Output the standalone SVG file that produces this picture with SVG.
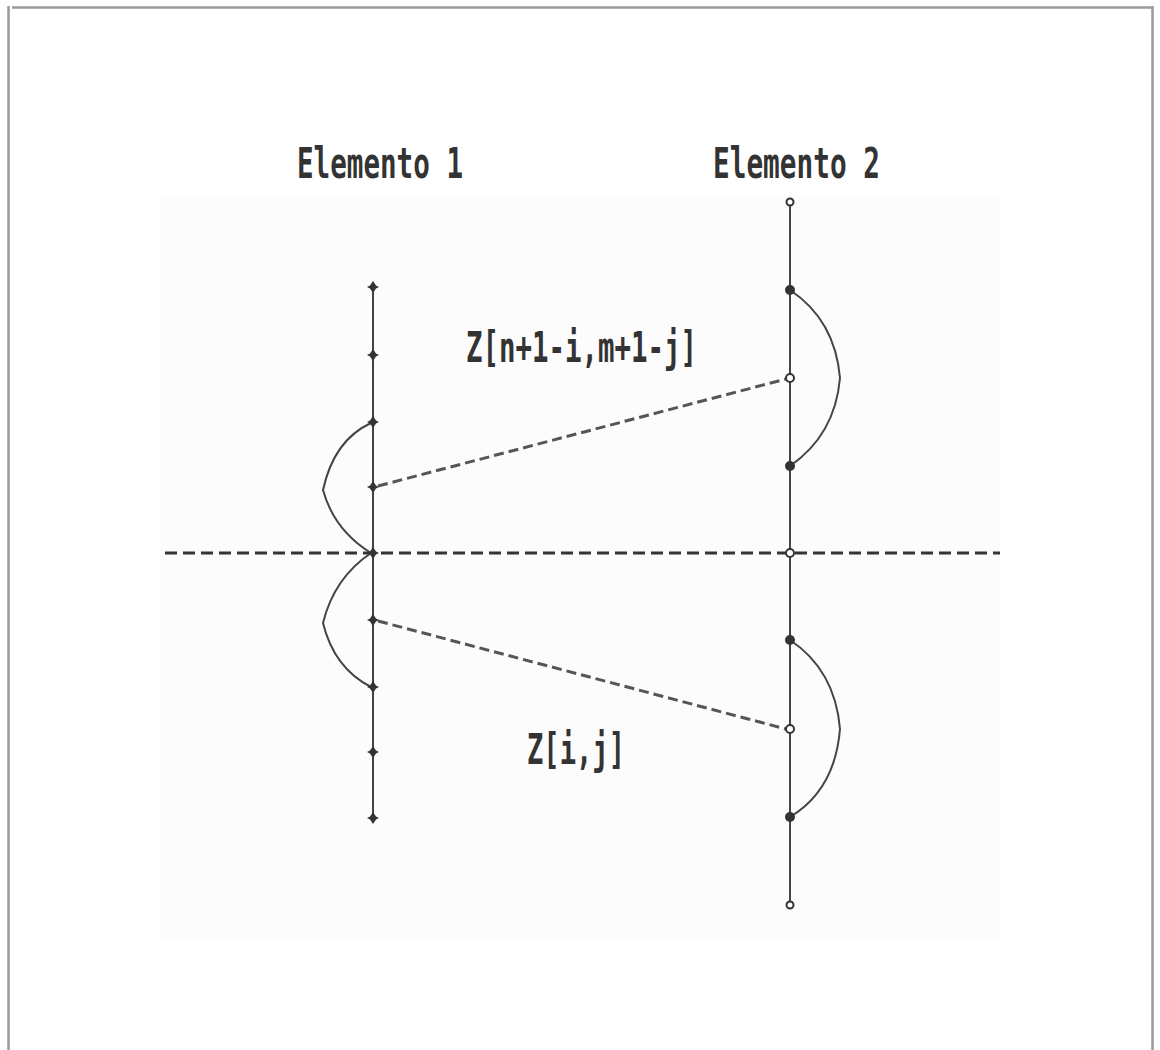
<svg xmlns="http://www.w3.org/2000/svg" width="1160" height="1050" viewBox="0 0 1160 1050">
<style>
.frame{stroke:#9a9a9a;stroke-width:2.5;fill:none}
.axis{stroke:#444;stroke-width:2;fill:none}
.arc{stroke:#444;stroke-width:2;fill:none}
.dash{stroke:#555;stroke-width:3;fill:none;stroke-dasharray:10 5}
.hdash{stroke:#333;stroke-width:3;fill:none;stroke-dasharray:12 6}
.lbl{font-family:"DejaVu Sans Mono","Liberation Mono",monospace;font-weight:bold;font-size:42px;fill:#333}
.dia{fill:#333}
.oc{fill:#fff;stroke:#333;stroke-width:2}
.fc{fill:#333}
</style>
<defs>
<path id="d" d="M0,-6 L3,-1.5 6,0 3,1.5 0,6 -3,1.5 -6,0 -3,-1.5Z"/>
</defs>
<rect x="0" y="0" width="1160" height="1050" fill="#fff"/>
<rect x="160" y="195" width="840" height="745" fill="#fcfcfc"/>
<g id="frame">
<line class="frame" x1="8.5" y1="6" x2="8.5" y2="1050"/>
<line class="frame" x1="12" y1="7.5" x2="1153" y2="7.5"/>
<line class="frame" x1="1152.5" y1="6" x2="1152.5" y2="1050"/>
</g>
<g id="connectors">
<line class="hdash" x1="165" y1="553" x2="1000" y2="553"/>
<line class="dash" x1="378" y1="486" x2="786" y2="379"/>
<line class="dash" x1="378" y1="621" x2="786" y2="729"/>
<path class="arc" d="M371,423 Q334,440 323,490 Q334,530 371,553"/>
<path class="arc" d="M371,553 Q334,578 323,623 Q334,668 371,687"/>
<path class="arc" d="M790,290 Q835,320 840,378 Q835,435 790,466"/>
<path class="arc" d="M790,640 Q835,670 840,729 Q835,790 790,817"/>
</g>
<g id="elemento1">
<line class="axis" x1="373" y1="287" x2="373" y2="818"/>
<use href="#d" x="373" y="287" class="dia"/>
<use href="#d" x="373" y="355" class="dia"/>
<use href="#d" x="373" y="422" class="dia"/>
<use href="#d" x="373" y="487" class="dia"/>
<use href="#d" x="373" y="553" class="dia"/>
<use href="#d" x="373" y="620" class="dia"/>
<use href="#d" x="373" y="687" class="dia"/>
<use href="#d" x="373" y="752" class="dia"/>
<use href="#d" x="373" y="818" class="dia"/>
<text class="lbl" x="297" y="178" textLength="166" lengthAdjust="spacingAndGlyphs">Elemento 1</text>
</g>
<g id="elemento2">
<line class="axis" x1="790" y1="202" x2="790" y2="905"/>
<circle class="oc" cx="790" cy="202" r="3.5"/>
<circle class="fc" cx="790" cy="290" r="5"/>
<circle class="oc" cx="790" cy="378" r="4"/>
<circle class="fc" cx="790" cy="466" r="5"/>
<circle class="oc" cx="790" cy="553" r="4"/>
<circle class="fc" cx="790" cy="640" r="5"/>
<circle class="oc" cx="790" cy="729" r="4"/>
<circle class="fc" cx="790" cy="817" r="5"/>
<circle class="oc" cx="790" cy="905" r="3.5"/>
<text class="lbl" x="713" y="178" textLength="167" lengthAdjust="spacingAndGlyphs">Elemento 2</text>
</g>
<g id="labels">
<text class="lbl" x="466" y="362" textLength="231" lengthAdjust="spacingAndGlyphs">Z[n+1-i,m+1-j]</text>
<text class="lbl" x="527" y="764" textLength="98" lengthAdjust="spacingAndGlyphs">Z[i,j]</text>
</g>
</svg>
